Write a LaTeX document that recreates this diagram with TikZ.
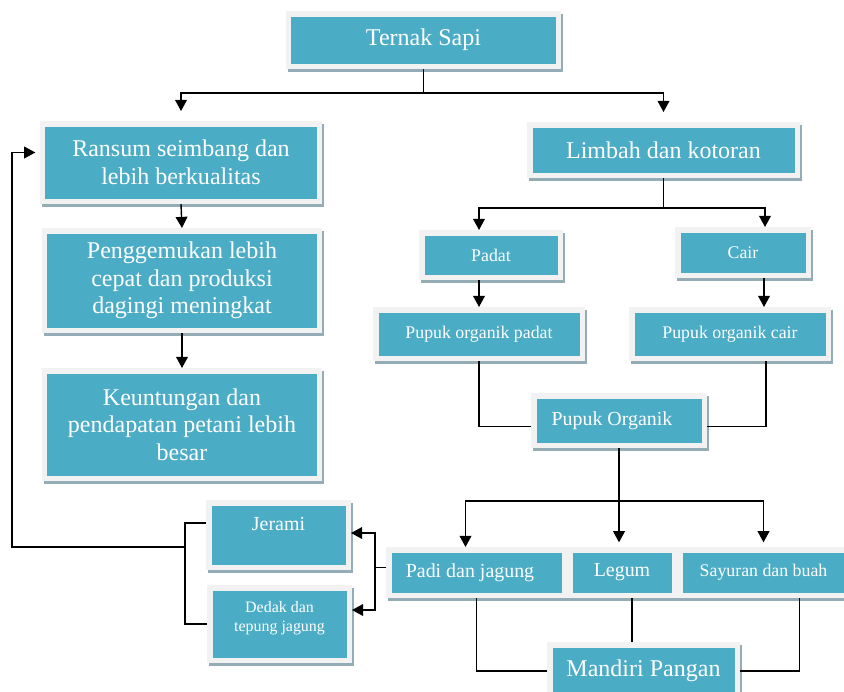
\documentclass[tikz,border=0pt]{standalone}
\usepackage{fontspec}
\setmainfont{Liberation Serif}
\usetikzlibrary{arrows.meta,calc}
\definecolor{boxfill}{RGB}{75,172,198}
\definecolor{boxframe}{RGB}{242,242,242}
\definecolor{boxshade}{RGB}{147,172,182}
\tikzset{
  box/.style={draw=boxframe,line width=0.165cm,fill=boxfill,text=white,inner sep=0pt,align=center,
    preaction={draw=boxshade,fill=boxshade,line width=0.165cm,transform canvas={shift={(1.7pt,-2.6pt)}}}},
  fbig/.style={font=\fontsize{20.5}{23.5}\selectfont},
  fmid/.style={font=\fontsize{17}{20}\selectfont},
  fsmall/.style={font=\fontsize{15.2}{18}\selectfont},
  ftiny/.style={font=\fontsize{13.6}{17}\selectfont}
}
\begin{document}
\begin{tikzpicture}[x=0.03cm,y=-0.03cm,>={Triangle[length=9.5pt,width=10pt]}]
\useasboundingbox (0,0) rectangle (844,691);

% left column
\node[box,fbig,minimum width=8.085cm,minimum height=1.575cm] (sapi) at (423.5,40) {Ternak Sapi};
\node[box,fbig,minimum width=8.295cm,minimum height=2.325cm] (ransum) at (181,162.5) {Ransum seimbang dan\\lebih berkualitas};
\node[box,fbig,minimum width=8.235cm,minimum height=2.985cm] (gemuk) at (182,280.5) {Penggemukan lebih\\cepat dan produksi\\dagingi meningkat};
\node[box,fbig,minimum width=8.235cm,minimum height=3.225cm] (untung) at (182,424.5) {Keuntungan dan\\pendapatan petani lebih\\besar};

% right column
\node[box,fbig,minimum width=8.025cm,minimum height=1.515cm] (limbah) at (663.5,150) {Limbah dan kotoran};
\node[box,fsmall,minimum width=4.155cm,minimum height=1.335cm] (padat) at (491,255) {Padat};
\node[box,fsmall,minimum width=3.915cm,minimum height=1.365cm] (cair) at (743,252.5) {Cair};
\node[box,fsmall,minimum width=6.195cm,minimum height=1.455cm] (pop) at (479,334) {Pupuk organik padat};
\node[box,fsmall,minimum width=5.895cm,minimum height=1.455cm] (poc) at (730,334) {Pupuk organik cair};
\node[box,fmid,minimum width=5.115cm,minimum height=1.485cm] (organik) at (619,420.5) {Pupuk Organik\hspace*{0.42cm}};

% bottom row
\node[box,fmid,minimum width=4.185cm,minimum height=1.935cm,text depth=0.67cm] (jerami) at (278.5,535) {Jerami};
\node[box,ftiny,minimum width=4.185cm,minimum height=2.175cm,text depth=0.45cm] (dedak) at (279.5,624) {Dedak dan\\tepung jagung};
\node[box,fmid,minimum width=5.265cm,minimum height=1.365cm] (padi) at (476.5,572.5) {Padi dan jagung\hspace*{0.39cm}};
\node[box,fmid,minimum width=3.135cm,minimum height=1.365cm] (legum) at (622,572.5) {Legum};
\node[box,fsmall,minimum width=5.025cm,minimum height=1.365cm] (sayur) at (763.5,572.5) {Sayuran dan buah};
\node[box,fbig,minimum width=5.625cm,minimum height=1.575cm] (mandiri) at (643.5,671) {Mandiri Pangan};
\coordinate (back) at (12,547);

\draw[very thick,->,shorten >=8.5pt] (sapi.south) -- ++(0,24) -| (ransum.north);
\draw[very thick,->,shorten >=8.5pt] (sapi.south) -- ++(0,24) -| (limbah.north);
\draw[very thick,->] (ransum.south) -- (gemuk.north);
\draw[very thick,->] (gemuk.south) -- (untung.north);

\draw[very thick,->] (limbah.south) -- ++(0,30) -| (padat.north -| pop.north);
\draw[very thick,->] (limbah.south) -- ++(0,30) -| ($(cair.north)+(22,0)$);
\draw[very thick,->] (padat.south -| pop.north) -- (pop.north);
\draw[very thick,->] ($(cair.south)+(21,0)$) coordinate (c1) -- (c1 |- poc.north);
\draw[very thick] (pop.south) |- ($(organik.west)+(0,6)$);
\draw[very thick] ($(poc.south)+(36,0)$) |- ($(organik.east)+(0,6)$);

\draw[very thick,->,shorten >=4pt] (organik.south) -- (organik.south |- legum.north);
\draw[very thick] ($(organik.south)+(0,53)$) coordinate (o1);
\draw[very thick,->] (o1) -| ($(padi.north)+(-11,0)$);
\draw[very thick,->,shorten >=4pt] (o1) -| (sayur.north);

\draw[very thick,->] ($(padi.west)+(0,-5)$) -- ++(-11,0) coordinate (p2) |- ($(jerami.east)+(0,-2)$);
\draw[very thick,->] (p2) |- ($(dedak.east)+(0,-14)$);
\draw[very thick] ($(jerami.west)+(0,-12)$) -- ++(-21,0) coordinate (j1) |- (dedak.west);
\draw[very thick,->,shorten >=4pt] (j1 |- back) -- (back) |- ($(ransum.west)+(0,-10)$);

\draw[very thick] (padi.south) |- (mandiri.west);
\draw[very thick] ($(legum.south)+(10,0)$) coordinate (l1) -- (l1 |- mandiri.north);
\draw[very thick] ($(sayur.south)+(36,0)$) |- (mandiri.east);
\end{tikzpicture}
\end{document}
